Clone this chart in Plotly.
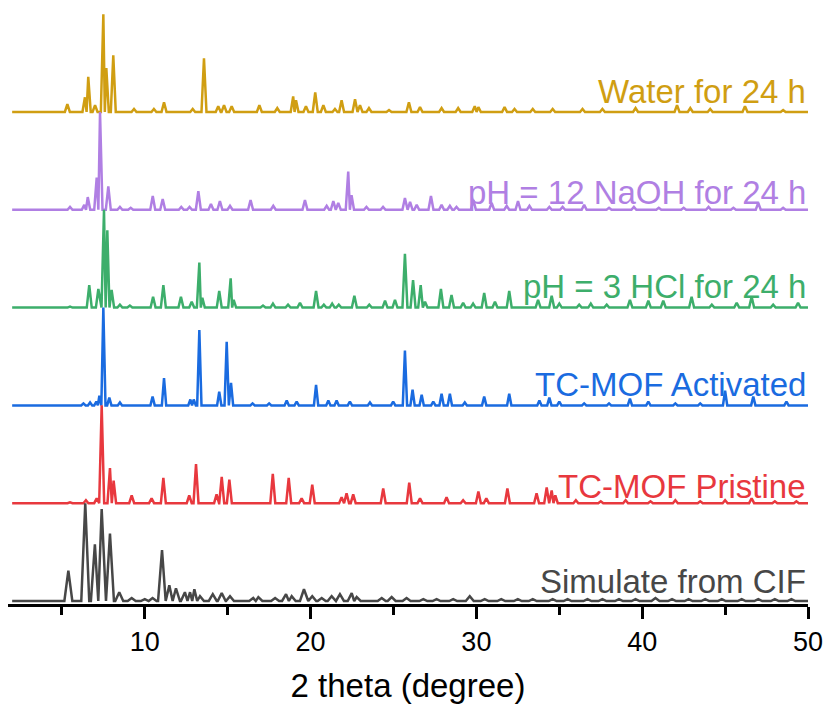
import plotly.graph_objects as go

# Powder XRD patterns of TC-MOF: simulated, as-made, activated and after soaking.
# Each pattern is a list of reflections (2theta in degrees, relative intensity, max = 100).

simulate_peaks = [
    (5.39, 31), (6.41, 100), (6.99, 58), (7.40, 94), (7.90, 69), (8.46, 9), (9.21, 3),
    (10.0, 2), (10.47, 3), (11.04, 52), (11.48, 16), (11.88, 13), (12.42, 9), (12.73, 9),
    (12.99, 12), (13.33, 5), (14.10, 7), (14.64, 8), (15.14, 5), (16.54, 3), (16.85, 4),
    (17.86, 3), (18.52, 7), (18.86, 5), (19.60, 12), (20.10, 5), (20.67, 3), (21.27, 5),
    (21.77, 7), (22.48, 8), (22.78, 4), (24.29, 3), (24.89, 4), (25.79, 3), (26.8, 2),
    (27.6, 2), (28.6, 2), (29.6, 5), (30.5, 2), (31.5, 2), (32.5, 2), (33.4, 2), (34.6, 2),
    (35.5, 2), (36.7, 2), (37.6, 2), (38.6, 2), (39.6, 2), (40.8, 3), (41.8, 2), (42.8, 2),
    (43.8, 2), (44.8, 2), (46.0, 2), (47.0, 2), (48.0, 2), (49.0, 2),
]

pristine_peaks = [
    (5.49, 1), (6.45, 3), (7.10, 5), (7.40, 100), (7.90, 36), (8.12, 23), (9.21, 8),
    (10.41, 5), (11.12, 26), (12.68, 8), (13.09, 40), (14.33, 9), (14.64, 27), (15.10, 24),
    (17.72, 30), (18.68, 26), (19.46, 5), (20.10, 19), (21.87, 6), (22.17, 10), (22.57, 9),
    (24.38, 15), (25.95, 21), (26.6, 5), (28.2, 6), (29.2, 3), (30.12, 12), (30.6, 5),
    (31.87, 15), (33.63, 10), (34.24, 16), (34.54, 13), (34.76, 8), (36.0, 3), (37.5, 2),
    (39.0, 3), (40.5, 2), (42.0, 3), (43.5, 2), (45.0, 3), (46.6, 5), (48.0, 2), (49.3, 2),
]

activated_peaks = [
    (6.3, 2), (6.7, 3), (7.08, 4), (7.26, 10), (7.50, 100), (7.86, 8), (8.5, 3),
    (10.47, 9), (11.16, 28), (12.75, 6), (12.95, 6), (13.29, 77), (14.49, 14), (14.94, 65),
    (15.20, 23), (16.5, 2), (17.5, 2), (18.56, 5), (19.16, 4), (20.33, 21), (21.07, 5),
    (21.57, 5), (22.37, 4), (23.58, 3), (24.98, 4), (25.69, 56), (26.15, 16), (26.70, 11),
    (27.4, 4), (27.90, 12), (28.40, 12), (29.3, 3), (30.47, 9), (31.98, 12), (33.8, 5),
    (34.4, 8), (35.0, 4), (36.5, 2), (38.0, 2), (39.26, 7), (40.37, 4), (42.0, 2),
    (43.5, 2), (45.0, 15), (46.7, 9), (48.7, 4),
]

hcl_peaks = [
    (5.49, 1), (6.65, 23), (7.20, 19), (7.54, 100), (7.74, 79), (8.00, 18), (8.5, 3),
    (9.1, 2), (10.50, 11), (11.12, 23), (12.18, 11), (12.83, 6), (13.29, 46), (13.47, 10),
    (14.49, 17), (15.18, 30), (15.36, 8), (17.13, 2), (17.73, 4), (18.64, 3), (19.36, 5),
    (20.33, 17), (20.8, 3), (21.3, 4), (21.7, 3), (22.64, 12), (23.54, 3), (24.49, 7),
    (25.09, 8), (25.69, 55), (26.18, 28), (26.64, 23), (26.90, 6), (27.86, 19), (28.50, 13),
    (29.2, 5), (29.8, 4), (30.47, 15), (31.12, 6), (31.98, 17), (33.72, 8), (34.54, 12),
    (35.0, 4), (36.2, 3), (36.9, 4), (37.86, 3), (39.26, 8), (40.37, 7), (41.27, 7),
    (42.98, 11), (44.2, 3), (45.7, 5), (46.6, 11), (47.9, 3), (49.4, 5),
]

naoh_peaks = [
    (5.49, 3), (6.35, 5), (6.56, 13), (7.10, 33), (7.30, 100), (7.80, 24), (8.5, 3),
    (9.15, 2), (10.48, 14), (11.08, 11), (12.2, 3), (12.7, 3), (13.23, 19), (13.99, 6),
    (14.53, 9), (15.14, 4), (16.38, 10), (17.75, 4), (19.66, 10), (20.97, 4), (21.37, 9),
    (21.67, 7), (22.27, 39), (22.47, 15), (23.37, 3), (24.37, 3), (25.69, 12), (26.00, 8),
    (26.4, 5), (27.26, 14), (27.9, 5), (28.4, 4), (28.8, 3), (29.82, 10), (30.92, 7),
    (31.83, 4), (32.51, 9), (33.2, 4), (34.4, 3), (35.2, 3), (36.5, 5), (38.0, 2),
    (39.5, 3), (41.0, 2), (42.5, 2), (44.0, 3), (45.5, 2), (47.0, 7), (48.5, 2),
]

water_peaks = [
    (5.33, 8), (6.39, 15), (6.59, 36), (7.00, 7), (7.50, 100), (7.68, 45), (8.10, 58),
    (9.35, 3), (10.55, 3), (11.16, 10), (12.89, 3), (13.57, 55), (14.43, 6), (14.78, 7),
    (15.24, 6), (16.91, 7), (17.99, 4), (18.95, 16), (19.12, 12), (19.72, 6), (20.28, 20),
    (20.77, 7), (21.47, 3), (21.87, 12), (22.68, 13), (22.98, 7), (23.52, 4), (24.73, 2),
    (25.93, 10), (26.6, 5), (27.9, 4), (28.9, 4), (29.9, 6), (30.12, 5), (31.7, 5),
    (32.3, 3), (33.4, 3), (34.6, 3), (36.4, 3), (37.6, 3), (39.6, 4), (42.1, 7), (42.9, 4),
    (44.1, 3), (46.2, 6), (48.5, 2),
]

series_names = [
    "Simulate from CIF", "TC-MOF Pristine", "TC-MOF Activated",
    "pH = 3 HCl for 24 h", "pH = 12 NaOH for 24 h", "Water for 24 h",
]
series_peaks = [simulate_peaks, pristine_peaks, activated_peaks, hcl_peaks, naoh_peaks, water_peaks]
series_offsets = [0, 100, 200, 300, 400, 500]

x_ticks = [10, 20, 30, 40, 50]
scan_start, scan_end = 2.0, 50.0

# drawing styles
colors = ["#474747", "#E8383E", "#1A6BE0", "#3DAE6B", "#B07FE3", "#D09E12"]
half_widths = [0.24, 0.15, 0.13, 0.15, 0.15, 0.15]
label_shift = [-1, -4, 0, 1, -3, 0]
FONT = "Liberation Sans, Arial, sans-serif"


def stick_profile(peaks, hw):
    """Polyline through each reflection: baseline -> apex -> baseline."""
    pk = sorted(peaks)
    xs, ys = [scan_start], [0.0]
    for i, (c, h) in enumerate(pk):
        left = c - hw
        if i > 0:
            left = max(left, (pk[i - 1][0] + c) / 2)
        right = c + hw
        if i < len(pk) - 1:
            right = min(right, (c + pk[i + 1][0]) / 2)
        if left > xs[-1] + 1e-9:
            xs.append(left)
            ys.append(0.0)
        xs.append(c)
        ys.append(h)
        xs.append(right)
        ys.append(0.0)
    xs.append(scan_end)
    ys.append(0.0)
    return xs, ys


fig = go.Figure()

# top pattern first so lower patterns' peaks lie over upper baselines
for idx in reversed(range(len(series_names))):
    xs, ys = stick_profile(series_peaks[idx], half_widths[idx])
    off = series_offsets[idx]
    fig.add_trace(go.Scatter(
        x=xs, y=[v + off for v in ys], mode="lines",
        line=dict(color=colors[idx], width=2.5),
        name=series_names[idx], hoverinfo="skip",
    ))
    fig.add_annotation(
        x=1, xref="paper", xanchor="right",
        y=off + label_shift[idx], yref="y", yanchor="bottom",
        text=series_names[idx], showarrow=False,
        font=dict(family=FONT, size=33, color=colors[idx]),
    )

fig.update_layout(
    width=825, height=708,
    margin=dict(l=8, r=17, t=0, b=104),
    paper_bgcolor="white", plot_bgcolor="white",
    showlegend=False,
    xaxis=dict(
        range=[1.75, 50], tickvals=x_ticks, ticks="outside", ticklen=12, tickwidth=2.5,
        tickcolor="black", showline=True, linecolor="black", linewidth=2.5,
        showgrid=False, zeroline=False, ticklabeloverflow="allow",
        tickfont=dict(family=FONT, size=27, color="black"),
        minor=dict(dtick=5, tick0=0, ticks="outside", ticklen=8, tickwidth=2.5, tickcolor="black", showgrid=False),
        title=dict(text="2 theta (degree)", font=dict(family=FONT, size=33, color="black"), standoff=18),
    ),
    yaxis=dict(range=[-3.07, 614.5], visible=False, showgrid=False, zeroline=False),
)

fig.write_html("out.html")
